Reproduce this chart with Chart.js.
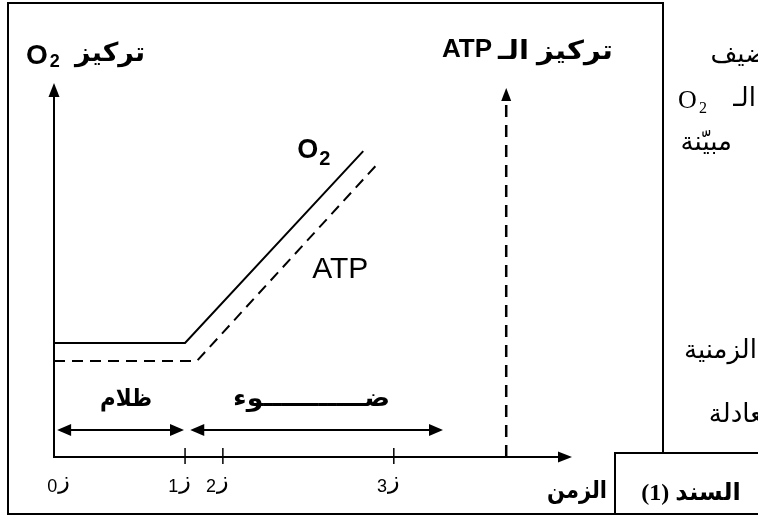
<!DOCTYPE html>
<html lang="ar">
<head>
<meta charset="utf-8">
<title>السند (1)</title>
<script src="https://cdn.jsdelivr.net/npm/chart.js@4.4.1/dist/chart.umd.min.js"></script>
<style>
  html, body { margin: 0; padding: 0; background: #fff; }
  canvas { display: block; }
</style>
</head>
<body>
<canvas id="myChart" width="758" height="518"></canvas>
<script>
// الزمن على المحور الأفقي (0 - 100) والتركيز على المحور العمودي (0 - 100)
const o2Times = [0, 25.3, 59.7];
const o2Values = [30.5, 30.5, 81.8];
const atpTimes = [0, 27.6, 62.4];
const atpValues = [25.7, 25.7, 78.3];

const tickLabels = ["ز0", "ز1", "ز2", "ز3"];
const tickTimes = [0, 25.3, 32.6, 65.6];

const periodLabels = ["ظلام", "ضـــــــــــوء"];
const periodStarts = [0.6, 26.3];
const periodEnds = [25.1, 75.1];

const atpAxisTime = 87.3;

const sans = '"Liberation Sans", "DejaVu Sans", Arial, sans-serif';
const serif = '"Liberation Serif", "DejaVu Sans", serif';

const toPoints = (xs, ys) => xs.map((x, i) => ({ x: x, y: ys[i] }));

// رأس سهم مملوء
function arrowHead(ctx, x, y, dir, len, half) {
  ctx.beginPath();
  ctx.moveTo(x, y);
  if (dir == "up") {
    ctx.lineTo(x - half, y + len);
    ctx.lineTo(x + half, y + len);
  } else if (dir == "right") {
    ctx.lineTo(x - len, y - half);
    ctx.lineTo(x - len, y + half);
  } else {
    ctx.lineTo(x + len, y - half);
    ctx.lineTo(x + len, y + half);
  }
  ctx.closePath();
  ctx.fill();
}

function text(ctx, str, x, y, font, align, dir) {
  ctx.font = font;
  ctx.textAlign = align || "left";
  ctx.direction = dir || "ltr";
  ctx.textBaseline = "alphabetic";
  ctx.fillText(str, x, y);
}

// نص عربي ممدود بين حدين
function fitText(ctx, str, left, right, y, font) {
  ctx.font = font;
  ctx.direction = "rtl";
  ctx.textAlign = "left";
  ctx.textBaseline = "alphabetic";
  const w = ctx.measureText(str).width;
  const k = (right - left) / w;
  ctx.save();
  ctx.translate(left, y);
  ctx.scale(k, 1);
  ctx.textAlign = "left";
  ctx.direction = "ltr";
  ctx.fillText(str, 0, 0);
  ctx.restore();
}

const whiteBg = {
  id: "whiteBg",
  beforeDraw(chart) {
    const ctx = chart.ctx;
    ctx.save();
    ctx.fillStyle = "#fff";
    ctx.fillRect(0, 0, chart.width, chart.height);
    ctx.restore();
  },
};

const drawing = {
  id: "drawing",
  afterDraw(chart) {
    const ctx = chart.ctx;
    const xs = chart.scales.x;
    const ys = chart.scales.y;
    const area = chart.chartArea;
    const x0 = xs.getPixelForValue(0);
    const y0 = ys.getPixelForValue(0);

    ctx.save();
    ctx.strokeStyle = "#000";
    ctx.fillStyle = "#000";
    ctx.lineWidth = 2;

    // الإطار
    ctx.beginPath();
    ctx.moveTo(663, 453);
    ctx.lineTo(663, 3);
    ctx.lineTo(8, 3);
    ctx.lineTo(8, 514);
    ctx.lineTo(758, 514);
    ctx.moveTo(615, 514);
    ctx.lineTo(615, 453);
    ctx.lineTo(758, 453);
    ctx.stroke();

    // المحاور
    ctx.beginPath();
    ctx.moveTo(x0, area.top + 12);
    ctx.lineTo(x0, y0);
    ctx.lineTo(area.right - 12, y0);
    ctx.stroke();
    arrowHead(ctx, x0, area.top, "up", 14, 5.5);
    arrowHead(ctx, area.right, y0, "right", 14, 5.5);

    const ax = xs.getPixelForValue(atpAxisTime);
    ctx.save();
    ctx.lineWidth = 2.5;
    ctx.setLineDash([12, 8]);
    ctx.beginPath();
    ctx.moveTo(ax, y0);
    ctx.lineTo(ax, area.top + 18);
    ctx.stroke();
    ctx.restore();
    arrowHead(ctx, ax, area.top + 5, "up", 13, 5);

    // التدريجات
    ctx.lineWidth = 1.5;
    tickTimes.forEach((t, i) => {
      const px = xs.getPixelForValue(t);
      if (i > 0) {
        ctx.beginPath();
        ctx.moveTo(px, y0 - 9);
        ctx.lineTo(px, y0 + 7);
        ctx.stroke();
      }
      const zx = Math.max(px, x0 + 10);
      text(ctx, tickLabels[i].charAt(0), zx, y0 + 31, "24px " + sans, "center");
      ctx.font = "24px " + sans;
      const w = ctx.measureText(tickLabels[i].charAt(0)).width;
      text(ctx, tickLabels[i].slice(1), zx - w / 2 - 1, y0 + 35, "18px " + sans, "right");
    });

    // فترات الظلام والضوء
    ctx.lineWidth = 2;
    const labelSpans = [[100, 152], [233, 390]];
    periodLabels.forEach((lab, i) => {
      const a = xs.getPixelForValue(periodStarts[i]);
      const b = xs.getPixelForValue(periodEnds[i]);
      const py = ys.getPixelForValue(7.2);
      ctx.beginPath();
      ctx.moveTo(a + 12, py);
      ctx.lineTo(b - 12, py);
      ctx.stroke();
      arrowHead(ctx, a, py, "left", 14, 6);
      arrowHead(ctx, b, py, "right", 14, 6);
      fitText(ctx, lab, labelSpans[i][0], labelSpans[i][1], ys.getPixelForValue(16) + 9, "bold 24px " + sans);
    });

    // أسماء المنحنيات
    const oX = xs.getPixelForValue(o2Times[2]);
    const oY = ys.getPixelForValue(o2Values[2]);
    text(ctx, "O", oX - 66, oY + 7, "bold 27px " + sans);
    text(ctx, "2", oX - 44, oY + 14, "bold 20px " + sans);
    const tX = xs.getPixelForValue(atpTimes[2]);
    const tY = ys.getPixelForValue(atpValues[2]);
    text(ctx, "ATP", tX - 65, tY + 114, "30px " + sans);

    // عناوين المحاور
    text(ctx, "O", 26, 64, "bold 28px " + sans);
    ctx.font = "bold 28px " + sans;
    const ow = ctx.measureText("O").width;
    text(ctx, "2", 26 + ow + 2, 67, "bold 18px " + sans);
    fitText(ctx, "تركيز", 75, 145, 61, "bold 26px " + sans);
    text(ctx, "ATP", 442, 57, "bold 26px " + sans);
    fitText(ctx, "تركيز الـ", 498, 613, 59, "bold 26px " + sans);
    fitText(ctx, "الزمن", 547, 607, 498, "bold 24px " + sans);

    // السند
    text(ctx, "السند (1)", 691, 500, "bold 24px " + serif, "center", "rtl");

    // بقية النص
    ctx.beginPath();
    ctx.rect(668, 0, 90, 450);
    ctx.clip();
    text(ctx, "نضيف", 775, 62, "26px " + serif, "right", "rtl");
    text(ctx, "O", 678, 108, "26px " + serif);
    text(ctx, "2", 699, 113, "16px " + serif);
    text(ctx, "الـ", 756, 106, "26px " + serif, "right", "rtl");
    text(ctx, "مبيّنة", 732, 150, "26px " + serif, "right", "rtl");
    text(ctx, "الزمنية", 757, 358, "26px " + serif, "right", "rtl");
    text(ctx, "بمعادلة", 785, 422, "26px " + serif, "right", "rtl");
    ctx.restore();
  },
};

const config = {
  type: "line",
  data: {
    datasets: [
      {
        label: "O2",
        data: toPoints(o2Times, o2Values),
        borderColor: "#000",
        borderWidth: 2,
        pointRadius: 0,
        tension: 0,
        fill: false,
      },
      {
        label: "ATP",
        data: toPoints(atpTimes, atpValues),
        borderColor: "#000",
        borderWidth: 2,
        borderDash: [11, 7],
        pointRadius: 0,
        tension: 0,
        fill: false,
      },
    ],
  },
  options: {
    responsive: false,
    animation: false,
    devicePixelRatio: 1,
    layout: { padding: { left: 54, right: 186, top: 83, bottom: 61 } },
    scales: {
      x: { type: "linear", min: 0, max: 100, display: false },
      y: { type: "linear", min: 0, max: 100, display: false },
    },
    plugins: {
      legend: { display: false },
      tooltip: { enabled: false },
    },
  },
  plugins: [whiteBg, drawing],
};

const myChart = new Chart(document.getElementById("myChart"), config);
</script>
</body>
</html>
